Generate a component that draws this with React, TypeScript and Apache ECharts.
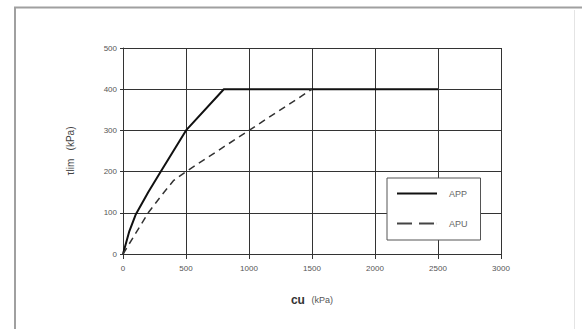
import React, { useEffect, useRef } from "react";
import * as echarts from "echarts";

const xTicks = [0, 500, 1000, 1500, 2000, 2500, 3000];
const yTicks = [0, 100, 200, 300, 400, 500];
const appX = [0, 50, 100, 200, 300, 500, 800, 2500];
const appY = [0, 55, 95, 150, 200, 300, 400, 400];
const apuX = [0, 100, 200, 300, 400, 500, 1500];
const apuY = [0, 50, 100, 140, 178, 200, 400];
const seriesNames = ["APP", "APU"];

export default function App() {
  const ref = useRef<HTMLDivElement>(null);
  useEffect(() => {
    const chart = echarts.init(ref.current!, null, { renderer: "svg" });
    const font = "Liberation Sans, Arial, sans-serif";
    chart.setOption({
      animation: false,
      backgroundColor: "#fff",
      textStyle: { fontFamily: font },
      grid: { left: 123, right: 81, top: 48, bottom: 75, containLabel: false },
      graphic: [
        {
          type: "polyline",
          shape: { points: [[15, 340], [15, 7.5], [600, 7.5]] },
          style: { stroke: "#a0a0a0", lineWidth: 2, fill: "none" },
          silent: true,
        },
        {
          type: "line",
          shape: { x1: 574.5, y1: 10, x2: 574.5, y2: 329 },
          style: { stroke: "#e4e4e4", lineWidth: 1 },
          silent: true,
        },
      ],
      xAxis: {
        type: "value",
        min: xTicks[0],
        max: xTicks[xTicks.length - 1],
        interval: 500,
        name: "{b|cu}  {n|(kPa)}",
        nameLocation: "middle",
        nameGap: 40,
        nameTextStyle: {
          rich: {
            b: { fontSize: 12, fontWeight: "bold", color: "#333", fontFamily: font },
            n: { fontSize: 9, color: "#555", fontFamily: font },
          },
        },
        axisLine: { show: true, lineStyle: { color: "#333", width: 1 } },
        axisTick: { show: true, length: 5, inside: false, lineStyle: { color: "#333" } },
        axisLabel: { fontSize: 8, color: "#555", margin: 10, formatter: (v: number) => String(v) },
        splitLine: { show: true, lineStyle: { color: "#333", width: 1 } },
      },
      yAxis: {
        type: "value",
        min: yTicks[0],
        max: yTicks[yTicks.length - 1],
        interval: 100,
        name: "τlim   (kPa)",
        nameLocation: "middle",
        nameGap: 48,
        nameRotate: 90,
        nameTextStyle: { fontSize: 10, color: "#444", fontFamily: font },
        axisLine: { show: true, lineStyle: { color: "#333", width: 1 } },
        axisTick: { show: true, length: 3, lineStyle: { color: "#333" } },
        axisLabel: { fontSize: 8, color: "#555", margin: 6, formatter: (v: number) => String(v) },
        splitLine: { show: true, lineStyle: { color: "#333", width: 1 } },
      },
      legend: {
        left: 387,
        top: 178,
        orient: "vertical",
        padding: [11, 13, 12, 10],
        itemGap: 21,
        itemWidth: 40,
        itemHeight: 2,
        borderColor: "#555",
        borderWidth: 1,
        backgroundColor: "#fff",
        textStyle: { fontSize: 9, color: "#666", padding: [0, 0, 0, 7] },
        data: [
          { name: seriesNames[0], icon: "path://M0,0H40V2H0Z", itemStyle: { color: "#111" } },
          {
            name: seriesNames[1],
            icon: "path://M0,0H15V2H0Z M22,0H37V2H22Z M39.9,0H40V2H39.9Z",
            itemStyle: { color: "#444" },
          },
        ],
      },
      series: [
        {
          name: seriesNames[0],
          type: "line",
          data: appX.map((x, i) => [x, appY[i]]),
          showSymbol: false,
          symbol: "none",
          lineStyle: { color: "#111", width: 2 },
          itemStyle: { color: "#111" },
        },
        {
          name: seriesNames[1],
          type: "line",
          data: apuX.map((x, i) => [x, apuY[i]]),
          showSymbol: false,
          symbol: "none",
          lineStyle: { color: "#333", width: 1.5, type: [7, 5] },
          itemStyle: { color: "#333" },
        },
      ],
    });
    return () => chart.dispose();
  }, []);
  return (
    <div
      ref={ref}
      style={{ position: "fixed", left: 0, top: 0, width: 582, height: 329 }}
    />
  );
}
